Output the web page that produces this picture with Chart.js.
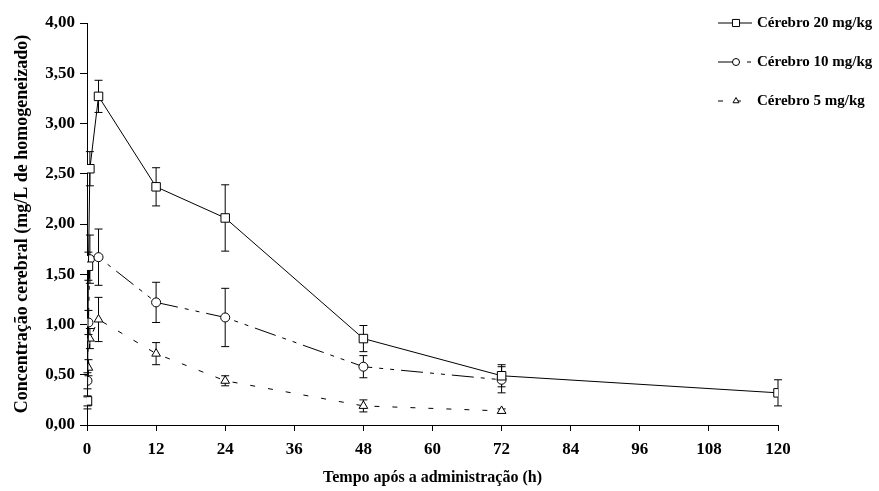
<!DOCTYPE html>
<html>
<head>
<meta charset="utf-8">
<script src="https://cdn.jsdelivr.net/npm/chart.js@4/dist/chart.umd.min.js"></script>
<style>
  body { margin: 0; background: white; }
  #wrap { width: 879px; height: 491px; }
</style>
</head>
<body>
<div id="wrap"><canvas id="grafico"></canvas></div>
<script>
// dados (tempo em h, concentração em mg/L, dp = desvio)
const tempo20 = [0.083, 0.25, 0.5, 2, 12, 24, 48, 72, 120];
const cerebro20 = [0.24, 1.58, 2.55, 3.27, 2.37, 2.06, 0.86, 0.49, 0.32];
const dp20 = [0.05, 0.14, 0.17, 0.16, 0.19, 0.33, 0.13, 0.11, 0.13];

const tempo10 = [0.083, 0.25, 0.5, 2, 12, 24, 48, 72];
const cerebro10 = [0.44, 1.02, 1.65, 1.67, 1.22, 1.07, 0.58, 0.45];
const dp10 = [0.08, 0.12, 0.24, 0.28, 0.20, 0.29, 0.11, 0.13];

const tempo5 = [0.083, 0.25, 0.5, 2, 12, 24, 48, 72];
const cerebro5 = [0.22, 0.57, 0.86, 1.05, 0.71, 0.44, 0.19, 0.14];
const dp5 = [0.06, 0.08, 0.10, 0.22, 0.11, 0.05, 0.06, 0.02];

const rotulos = ['Cérebro 20 mg/kg', 'Cérebro 10 mg/kg', 'Cérebro 5 mg/kg'];

const fonte = "'Liberation Serif', 'Times New Roman', serif";
Chart.defaults.font.family = fonte;
Chart.defaults.font.weight = 'bold';
Chart.defaults.font.size = 17;
Chart.defaults.color = '#000';

function pontos(t, v) {
    return t.map(function(x, i) { return {x: x, y: v[i]}; });
}

function serie(label, t, v, dp, estilo, dash) {
    return {
        label: label,
        data: pontos(t, v),
        dp: dp,
        borderColor: '#000',
        borderWidth: 1,
        borderDash: dash,
        pointStyle: estilo,
        pointRadius: estilo === 'rect' ? 6 : (estilo === 'triangle' ? 5 : 4.5),
        pointBorderWidth: 1,
        pointBorderColor: '#000',
        pointBackgroundColor: '#fff',
        tension: 0,
    };
}

// barras de erro
const barrasErro = {
    id: 'barrasErro',
    beforeDatasetsDraw: function(chart) {
        const ctx = chart.ctx;
        const sx = chart.scales.x, sy = chart.scales.y;
        ctx.save();
        ctx.strokeStyle = '#000';
        ctx.lineWidth = 1;
        chart.data.datasets.forEach(function(ds) {
            ds.data.forEach(function(p, i) {
                const x = sx.getPixelForValue(p.x);
                const y1 = sy.getPixelForValue(p.y + ds.dp[i]);
                const y2 = sy.getPixelForValue(p.y - ds.dp[i]);
                ctx.beginPath();
                ctx.moveTo(x, y1); ctx.lineTo(x, y2);
                ctx.moveTo(x - 4, y1); ctx.lineTo(x + 4, y1);
                ctx.moveTo(x - 4, y2); ctx.lineTo(x + 4, y2);
                ctx.stroke();
            });
        });
        ctx.restore();
    }
};

// legenda no canto superior direito
const legenda = {
    id: 'legenda',
    afterDraw: function(chart) {
        const ctx = chart.ctx;
        const linhas = [23, 62, 101];
        ctx.save();
        chart.data.datasets.forEach(function(ds, i) {
            const y = linhas[i];
            ctx.strokeStyle = '#000';
            ctx.lineWidth = 1;
            ctx.setLineDash(ds.borderDash || []);
            ctx.beginPath();
            ctx.moveTo(718, y); ctx.lineTo(752, y);
            ctx.stroke();
            ctx.setLineDash([]);
            ctx.fillStyle = '#fff';
            const r = ds.pointStyle === 'rect' ? 5 : 3.5;
            Chart.helpers.drawPoint(ctx, {pointStyle: ds.pointStyle, radius: r, borderWidth: 1, rotation: 0}, 736, y);
            ctx.fillStyle = '#000';
            ctx.font = 'bold 15px ' + fonte;
            ctx.textBaseline = 'middle';
            ctx.textAlign = 'left';
            ctx.fillText(ds.label, 757, y);
        });
        ctx.restore();
    }
};

new Chart(document.getElementById('grafico'), {
    type: 'line',
    data: {
        datasets: [
            serie(rotulos[0], tempo20, cerebro20, dp20, 'rect', []),
            serie(rotulos[1], tempo10, cerebro10, dp10, 'circle', [22, 7, 4, 7, 4, 7]),
            serie(rotulos[2], tempo5, cerebro5, dp5, 'triangle', [5, 13]),
        ]
    },
    options: {
        responsive: true,
        maintainAspectRatio: false,
        animation: false,
        layout: {padding: {top: 23, right: 101, left: 0, bottom: 0}},
        scales: {
            x: {
                type: 'linear',
                min: 0,
                max: 120,
                border: {color: '#000', width: 1},
                grid: {drawOnChartArea: false, color: '#000', tickLength: 6},
                ticks: {stepSize: 12, padding: 8},
                title: {display: true, text: 'Tempo após a administração (h)', font: {size: 16}, padding: {top: 12}},
                afterFit: function(s) { s.height = 66; },
            },
            y: {
                min: 0,
                max: 4,
                border: {color: '#000', width: 1},
                grid: {drawOnChartArea: false, color: '#000', tickLength: 7},
                ticks: {
                    stepSize: 0.5,
                    padding: 5,
                    callback: function(v) { return v.toFixed(2).replace('.', ','); }
                },
                title: {display: true, text: 'Concentração cerebral (mg/L de homogeneizado)', font: {size: 18}, padding: {top: 12, bottom: 2}},
                afterFit: function(s) { s.width = 87; },
            }
        },
        plugins: {
            legend: {display: false},
            tooltip: {enabled: false},
        }
    },
    plugins: [barrasErro, legenda]
});
</script>
</body>
</html>
